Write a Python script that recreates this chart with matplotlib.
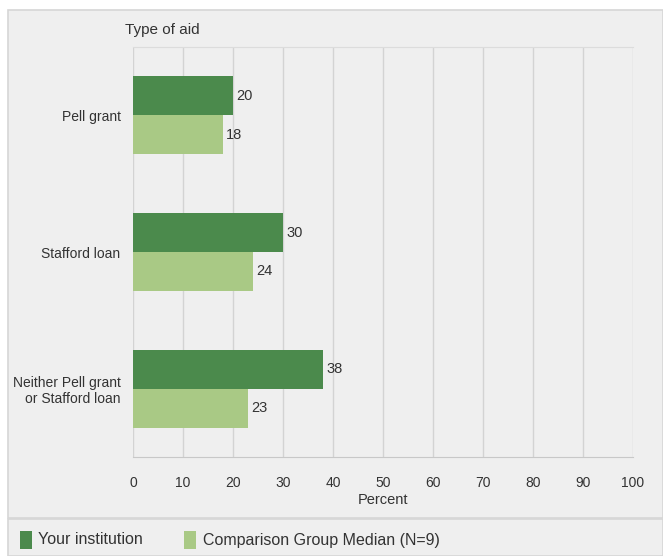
import matplotlib
matplotlib.use("Agg")
import matplotlib.pyplot as plt
from matplotlib.patches import Rectangle
import numpy as np

plt.rcParams['font.family'] = ['Liberation Sans Narrow', 'Liberation Sans', 'DejaVu Sans']

# data
categories = ["Pell grant", "Stafford loan", "Neither Pell grant\nor Stafford loan"]
your_institution = [20, 30, 38]
comparison_median = [18, 24, 23]
series_names = ["Your institution", "Comparison Group Median (N=9)"]
x_ticks = [0, 10, 20, 30, 40, 50, 60, 70, 80, 90, 100]

dark = "#4b8a4c"
light = "#a9c985"
panel = "#efefef"
txt = "#333333"

fig = plt.figure(figsize=(6.63, 5.56), dpi=100)
fig.patch.set_facecolor("white")

W, H = 663, 556
# grey background panel + legend strip
fig.patches.append(Rectangle((8 / W, 1 - 518 / H), 1 - 8 / W, 508 / H, transform=fig.transFigure,
                             facecolor=panel, edgecolor="#d6d6d6", linewidth=1.2, zorder=-5))
fig.patches.append(Rectangle((8 / W, 0), 1 - 8 / W, 1 - 519 / H, transform=fig.transFigure,
                             facecolor=panel, edgecolor="#d6d6d6", linewidth=1.2, zorder=-5))

ax = fig.add_axes([133 / W, 1 - 457 / H, 500 / W, 410 / H])
ax.set_zorder(2)
ax.set_facecolor(panel)

y = np.arange(len(categories))
h = 0.285
ax.barh(y - h / 2, your_institution, height=h, color=dark, zorder=3)
ax.barh(y + h / 2, comparison_median, height=h, color=light, zorder=3)

for yi, v in zip(y, your_institution):
    ax.text(v + 0.6, yi - h / 2, str(v), va="center", ha="left", fontsize=10.5, color=txt)
for yi, v in zip(y, comparison_median):
    ax.text(v + 0.6, yi + h / 2, str(v), va="center", ha="left", fontsize=10.5, color=txt)

ax.set_xlim(0, 100)
ax.set_ylim(2.5, -0.5)
ax.set_xticks(x_ticks)
ax.set_yticks(y)
ax.set_yticklabels(categories, fontsize=10, color=txt, linespacing=1.15)
ax.tick_params(axis="x", length=0, pad=14, labelsize=10, labelcolor=txt)
ax.tick_params(axis="y", length=0, pad=9)
for lab in ax.get_yticklabels():
    lab.set_horizontalalignment("right")
    lab.set_multialignment("right")

ax.grid(axis="x", color="#d3d3d3", linewidth=1, zorder=0)
ax.set_axisbelow(True)
for s in ["left", "right"]:
    ax.spines[s].set_visible(False)
ax.spines["top"].set_color("#dcdcdc")
ax.spines["bottom"].set_color("#c8c8c8")

ax.set_xlabel("Percent", fontsize=10.5, color=txt, labelpad=2)
fig.text(125 / W, 1 - 30 / H, "Type of aid", fontsize=11, color=txt, va="center", ha="left")

# legend strip
fig.patches.append(Rectangle((20 / W, 1 - 549 / H), 12 / W, 18 / H, transform=fig.transFigure,
                             facecolor=dark, edgecolor="none"))
fig.text(38 / W, 1 - 540 / H, series_names[0], fontsize=11.5, color=txt, va="center", ha="left")
fig.patches.append(Rectangle((184 / W, 1 - 549 / H), 12 / W, 18 / H, transform=fig.transFigure,
                             facecolor=light, edgecolor="none"))
fig.text(203 / W, 1 - 540 / H, series_names[1], fontsize=11.5, color=txt, va="center", ha="left")

fig.savefig("out.png", dpi=100)
